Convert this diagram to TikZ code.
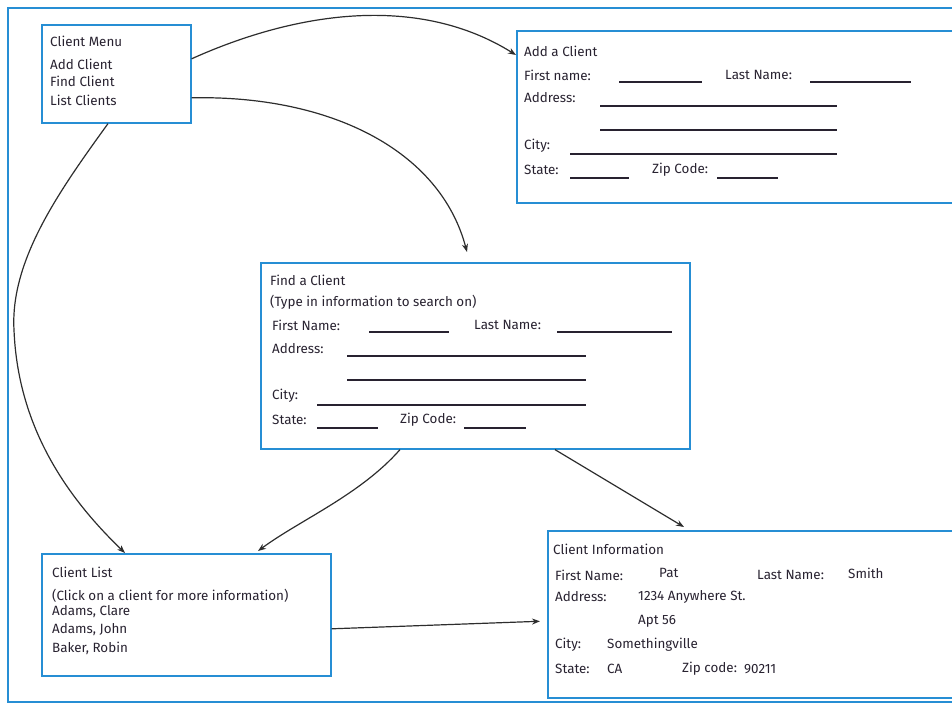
\documentclass[tikz,border=0pt]{standalone}
\usepackage{fontspec}
\setmainfont{Fira Sans}
\usetikzlibrary{arrows.meta}
\definecolor{frameblue}{RGB}{38,142,212}
\definecolor{inkdark}{RGB}{40,34,48}
\definecolor{arrowgray}{RGB}{45,45,45}

\begin{document}
\begin{tikzpicture}[x=1pt,y=-1pt,
    box/.style={draw=frameblue, line width=1.6pt, rectangle, anchor=north west, inner sep=0pt},
    lbl/.style={anchor=west, inner sep=0pt, text=inkdark, font=\fontsize{13.4}{15}\selectfont},
    blank/.style={draw=inkdark, line width=1.1pt},
    conn/.style={draw=arrowgray, line width=1.2pt, -{Stealth[length=8pt,width=6pt]}}]
    \useasboundingbox (0,0) rectangle (952,705);
    \clip (0,0) rectangle (952,705);

    % outer frame
    \draw[frameblue, line width=1.6pt] (8,8) rectangle (990,702);

    % screens
    \node[box, minimum width=149pt, minimum height=98pt] (menu) at (41,24) {};
    \node[box, minimum width=460pt, minimum height=172pt] (add) at (516,30) {};
    \node[box, minimum width=429pt, minimum height=186pt] (find) at (260,262) {};
    \node[box, minimum width=289pt, minimum height=122pt] (list) at (41,553) {};
    \node[box, minimum width=430pt, minimum height=167pt] (info) at (547,530) {};

    % client menu
    \node[lbl] (menuTitle) at (50,41) {Client Menu};
    \node[lbl] (menuAdd) at (50,64) {Add Client};
    \node[lbl] (menuFind) at (50,81) {Find Client};
    \node[lbl] (menuList) at (50,100) {List Clients};

    % add a client
    \node[lbl] (addTitle) at (524,51) {Add a Client};
    \node[lbl] (addFirst) at (524,75) {First name:};
    \draw[blank] (619,82) -- (702,82);
    \node[lbl] (addLast) at (725,75) {Last Name:};
    \draw[blank] (810,82) -- (911,82);
    \node[lbl] (addAddr) at (524,98) {Address:};
    \draw[blank] (600,106) -- (837,106);
    \draw[blank] (600,130) -- (837,130);
    \node[lbl] (addCity) at (524,146) {City:};
    \draw[blank] (570,154) -- (837,154);
    \node[lbl] (addState) at (524,170) {State:};
    \draw[blank] (570,178) -- (629,178);
    \node[lbl] (addZip) at (652,170) {Zip Code:};
    \draw[blank] (717,178) -- (778,178);

    % find a client
    \node[lbl] (findTitle) at (270,280) {Find a Client};
    \node[lbl] (findHint) at (270,302) {(Type in information to search on)};
    \node[lbl] (findFirst) at (272,325) {First Name:};
    \draw[blank] (369,332) -- (449,332);
    \node[lbl] (findLast) at (474,325) {Last Name:};
    \draw[blank] (557,332) -- (672,332);
    \node[lbl] (findAddr) at (272,349) {Address:};
    \draw[blank] (347,356) -- (586,356);
    \draw[blank] (347,380) -- (586,380);
    \node[lbl] (findCity) at (272,396) {City:};
    \draw[blank] (317,405) -- (586,405);
    \node[lbl] (findState) at (272,420) {State:};
    \draw[blank] (317,428) -- (378,428);
    \node[lbl] (findZip) at (400,420) {Zip Code:};
    \draw[blank] (464,428) -- (526,428);

    % client list
    \node[lbl] (listTitle) at (52,572) {Client List};
    \node[lbl] (listHint) at (52,596) {(Click on a client for more information)};
    \node[lbl] (listA) at (52,612) {Adams, Clare};
    \node[lbl] (listB) at (52,630) {Adams, John};
    \node[lbl] (listC) at (52,648) {Baker, Robin};

    % client information
    \node[lbl] (infoTitle) at (553,549) {Client Information};
    \node[lbl] (infoFirst) at (555,575) {First Name:};
    \node[lbl] (infoFirstV) at (659,573) {Pat};
    \node[lbl] (infoLast) at (757,575) {Last Name:};
    \node[lbl] (infoLastV) at (848,573) {Smith};
    \node[lbl] (infoAddr) at (555,597) {Address:};
    \node[lbl] (infoAddrV) at (638,597) {1234 Anywhere St.};
    \node[lbl] (infoAptV) at (638,621) {Apt 56};
    \node[lbl] (infoCity) at (555,645) {City:};
    \node[lbl] (infoCityV) at (607,645) {Somethingville};
    \node[lbl] (infoState) at (555,669) {State:};
    \node[lbl] (infoStateV) at (607,669) {CA};
    \node[lbl] (infoZip) at (682,669) {Zip code:};
    \node[lbl] (infoZipV) at (744,669) {90211};

    % navigation
    \draw[conn] ([shift={(0,-15)}]menu.east) .. controls (300,10) and (420,-5) .. ([shift={(0,25)}]add.north west);
    \draw[conn] ([shift={(0,24)}]menu.east) .. controls (330,95) and (440,150) .. ([shift={(207,-10)}]find.north west);
    \draw[conn] ([shift={(67,0)}]menu.south west) .. controls (60,190) and (10,260) .. (14,330)
        .. controls (18,430) and (70,500) .. ([shift={(84,0)}]list.north west);
    \draw[conn] ([shift={(140,0)}]find.south west) .. controls (360,495) and (300,520) .. ([shift={(217,-2)}]list.north west);
    \draw[conn] ([shift={(295,0)}]find.south west) -- ([shift={(137,-3)}]info.north west);
    \draw[conn, shorten >=7pt] ([shift={(0,14)}]list.east) -- ([shift={(0,621)}]info.west |- 0,0);
  \end{tikzpicture}
\end{document}
